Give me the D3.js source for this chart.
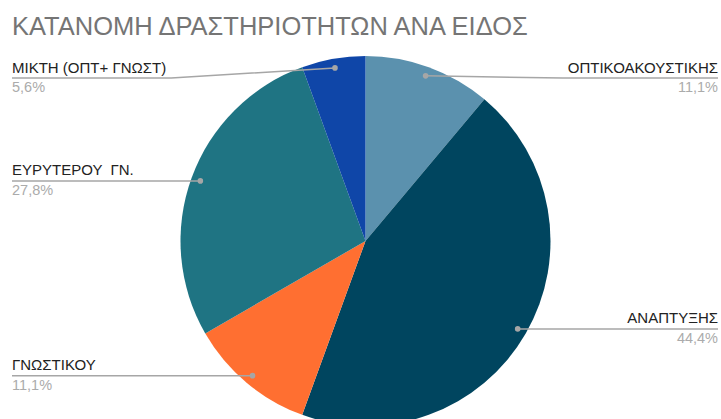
<!DOCTYPE html>
<html>
<head>
<meta charset="utf-8">
<script src="https://cdn.jsdelivr.net/npm/d3@7"></script>
<style>
  body { margin: 0; background: #fff; }
  svg { display: block; font-family: "Liberation Sans", Arial, sans-serif; }
</style>
</head>
<body>
<div id="chart"></div>
<script>
const categories = ['ΟΠΤΙΚΟΑΚΟΥΣΤΙΚΗΣ', 'ΑΝΑΠΤΥΞΗΣ', 'ΓΝΩΣΤΙΚΟΥ', 'ΕΥΡΥΤΕΡΟΥ  ΓΝ.', 'ΜΙΚΤΗ (ΟΠΤ+ ΓΝΩΣΤ)'];
const values = [2, 8, 2, 5, 1];
const colors = ['#5b91ae', '#00455f', '#ff6f31', '#1f7483', '#0f46a8'];
const title = 'ΚΑΤΑΝΟΜΗ ΔΡΑΣΤΗΡΙΟΤΗΤΩΝ ΑΝΑ ΕΙΔΟΣ';

const width = 721, height = 419;
const cx = 365.5, cy = 241, radius = 185;
const minLabelY = 78; // keep labels under the title

const svg = d3.select('#chart').append('svg')
  .attr('width', width)
  .attr('height', height);

svg.append('text')
  .attr('x', 12)
  .attr('y', 35)
  .attr('fill', '#757575')
  .style('font-size', '25.5px')
  .text(title);

const total = d3.sum(values);
const pie = d3.pie().sort(null).value(d => d.value);
const arcs = pie(categories.map((c, i) => ({name: c, value: values[i], color: colors[i]})));

const arc = d3.arc().innerRadius(0).outerRadius(radius);
const g = svg.append('g').attr('transform', 'translate(' + cx + ',' + cy + ')');

g.selectAll('.slice')
  .data(arcs)
  .enter()
  .append('path')
  .attr('class', 'slice')
  .attr('d', arc)
  .attr('fill', d => d.data.color);

const fmt = v => (v * 100).toFixed(1).replace('.', ',') + '%';

// labels with leader lines
const labels = svg.append('g');
arcs.forEach(d => {
  let a = (d.startAngle + d.endAngle) / 2;
  let r = radius * 0.95;
  let dx = cx + r * Math.sin(a);
  let dy = cy - r * Math.cos(a);
  let right = dx > cx;
  let ly = Math.max(dy, minLabelY);

  let name = labels.append('text')
    .attr('x', right ? 718 : 12)
    .attr('y', ly - 5.5)
    .attr('text-anchor', right ? 'end' : 'start')
    .attr('fill', '#222')
    .style('font-size', '15px')
    .style('white-space', 'pre')
    .attr('xml:space', 'preserve')
    .text(d.data.name);

  labels.append('text')
    .attr('x', right ? 718 : 12)
    .attr('y', ly + 14)
    .attr('text-anchor', right ? 'end' : 'start')
    .attr('fill', '#ababab')
    .style('font-size', '14.5px')
    .text(fmt(d.data.value / total));

  let tw = name.node().getComputedTextLength();
  let pts;
  if (Math.abs(ly - dy) < 0.5) {
    pts = [[right ? 718 : 12, dy], [dx, dy]];
  } else {
    let elbow = right ? 718 - tw - 5 : 12 + tw + 5;
    pts = [[right ? 718 : 12, ly], [elbow, ly], [dx, dy]];
  }
  labels.append('path')
    .attr('d', d3.line()(pts))
    .attr('fill', 'none')
    .attr('stroke', '#a6a6a6')
    .attr('stroke-width', 1.5);

  labels.append('circle')
    .attr('cx', dx)
    .attr('cy', dy)
    .attr('r', 2.8)
    .attr('fill', '#a6a6a6');
});
</script>
</body>
</html>
